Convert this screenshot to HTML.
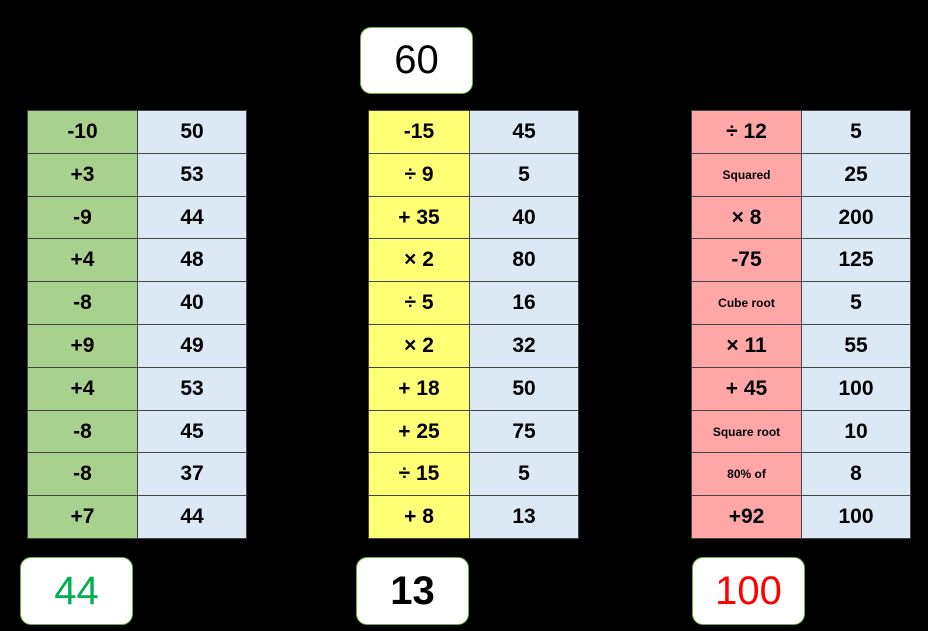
<!DOCTYPE html>
<html><head><meta charset="utf-8"><style>
body{margin:0;background:#000;width:928px;height:631px;overflow:hidden;position:relative;font-family:"Liberation Sans","DejaVu Sans",sans-serif}
.c{position:absolute;box-sizing:border-box;border:1px solid #444;display:flex;align-items:center;justify-content:center;font-weight:bold;font-size:21px;color:#000}
.s{font-size:12px}
.b{position:absolute;background:#fff;border:1.5px solid #70ad47;border-radius:11px;box-sizing:border-box;display:flex;align-items:center;justify-content:center;font-size:40px}
</style></head><body>
<div class="b" style="left:360px;top:27px;width:113px;height:67px">60</div>
<div class="b" style="left:20px;top:557px;width:113px;height:68px;color:#00b050">44</div>
<div class="b" style="left:356px;top:557px;width:113px;height:68px;font-weight:bold">13</div>
<div class="b" style="left:692px;top:557px;width:113px;height:68px;color:#ff0000">100</div>
<div id="t"></div>
<script>
var T=[
[27,137,247,"#a9d18e",["-10","+3","-9","+4","-8","+9","+4","-8","-8","+7"],["50","53","44","48","40","49","53","45","37","44"]],
[368,469,579,"#ffff75",["-15","÷ 9","+ 35","× 2","÷ 5","× 2","+ 18","+ 25","÷ 15","+ 8"],["45","5","40","80","16","32","50","75","5","13"]],
[691,801,911,"#ffa7a7",["÷ 12","Squared","× 8","-75","Cube root","× 11","+ 45","Square root","80% of","+92"],["5","25","200","125","5","55","100","10","8","100"]]];
var h="";
T.forEach(function(t){for(var i=0;i<10;i++){var y=Math.round(110+i*42.8),y2=Math.round(110+(i+1)*42.8);
var a=t[4][i],s=a.length>5?" s":"";
h+='<div class="c'+s+'" style="left:'+t[0]+'px;top:'+y+'px;width:'+(t[1]-t[0]+1)+'px;height:'+(y2-y+1)+'px;background:'+t[3]+'">'+a+'</div>';
h+='<div class="c" style="left:'+t[1]+'px;top:'+y+'px;width:'+(t[2]-t[1])+'px;height:'+(y2-y+1)+'px;background:#dde8f5">'+t[5][i]+'</div>';}});
document.getElementById("t").innerHTML=h;
</script>
</body></html>
